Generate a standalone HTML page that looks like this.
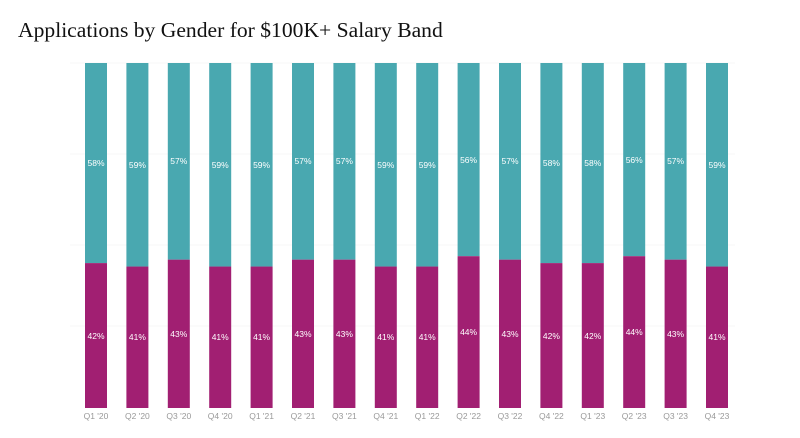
<!DOCTYPE html><html><head><style>body{margin:0;background:#fff}svg{display:block}</style></head><body>
<svg width="800" height="438" xmlns="http://www.w3.org/2000/svg">
<text x="18" y="37" font-family="Liberation Serif, serif" font-size="21.6" fill="#111">Applications by Gender for $100K+ Salary Band</text>
<g stroke="#f7f7f7" stroke-width="1"><line x1="70" y1="63" x2="735" y2="63"/><line x1="70" y1="154" x2="735" y2="154"/><line x1="70" y1="245" x2="735" y2="245"/><line x1="70" y1="326" x2="735" y2="326"/></g>
<g font-family="Liberation Sans, sans-serif" font-size="8.5" text-anchor="middle">
<rect x="85" y="63" width="22" height="200.1" fill="#49a8b0"/><rect x="85" y="263.1" width="22" height="144.9" fill="#a11f72"/><text x="96" y="166" fill="#fff">58%</text><text x="96" y="339" fill="#fff">42%</text><text x="96" y="419" fill="#999">Q1 '20</text>
<rect x="126.4" y="63" width="22" height="203.55" fill="#49a8b0"/><rect x="126.4" y="266.55" width="22" height="141.45" fill="#a11f72"/><text x="137.4" y="168" fill="#fff">59%</text><text x="137.4" y="340" fill="#fff">41%</text><text x="137.4" y="419" fill="#999">Q2 '20</text>
<rect x="167.8" y="63" width="22" height="196.65" fill="#49a8b0"/><rect x="167.8" y="259.65" width="22" height="148.35" fill="#a11f72"/><text x="178.8" y="164" fill="#fff">57%</text><text x="178.8" y="337" fill="#fff">43%</text><text x="178.8" y="419" fill="#999">Q3 '20</text>
<rect x="209.2" y="63" width="22" height="203.55" fill="#49a8b0"/><rect x="209.2" y="266.55" width="22" height="141.45" fill="#a11f72"/><text x="220.2" y="168" fill="#fff">59%</text><text x="220.2" y="340" fill="#fff">41%</text><text x="220.2" y="419" fill="#999">Q4 '20</text>
<rect x="250.6" y="63" width="22" height="203.55" fill="#49a8b0"/><rect x="250.6" y="266.55" width="22" height="141.45" fill="#a11f72"/><text x="261.6" y="168" fill="#fff">59%</text><text x="261.6" y="340" fill="#fff">41%</text><text x="261.6" y="419" fill="#999">Q1 '21</text>
<rect x="292" y="63" width="22" height="196.65" fill="#49a8b0"/><rect x="292" y="259.65" width="22" height="148.35" fill="#a11f72"/><text x="303" y="164" fill="#fff">57%</text><text x="303" y="337" fill="#fff">43%</text><text x="303" y="419" fill="#999">Q2 '21</text>
<rect x="333.4" y="63" width="22" height="196.65" fill="#49a8b0"/><rect x="333.4" y="259.65" width="22" height="148.35" fill="#a11f72"/><text x="344.4" y="164" fill="#fff">57%</text><text x="344.4" y="337" fill="#fff">43%</text><text x="344.4" y="419" fill="#999">Q3 '21</text>
<rect x="374.8" y="63" width="22" height="203.55" fill="#49a8b0"/><rect x="374.8" y="266.55" width="22" height="141.45" fill="#a11f72"/><text x="385.8" y="168" fill="#fff">59%</text><text x="385.8" y="340" fill="#fff">41%</text><text x="385.8" y="419" fill="#999">Q4 '21</text>
<rect x="416.2" y="63" width="22" height="203.55" fill="#49a8b0"/><rect x="416.2" y="266.55" width="22" height="141.45" fill="#a11f72"/><text x="427.2" y="168" fill="#fff">59%</text><text x="427.2" y="340" fill="#fff">41%</text><text x="427.2" y="419" fill="#999">Q1 '22</text>
<rect x="457.6" y="63" width="22" height="193.2" fill="#49a8b0"/><rect x="457.6" y="256.2" width="22" height="151.8" fill="#a11f72"/><text x="468.6" y="163" fill="#fff">56%</text><text x="468.6" y="335" fill="#fff">44%</text><text x="468.6" y="419" fill="#999">Q2 '22</text>
<rect x="499" y="63" width="22" height="196.65" fill="#49a8b0"/><rect x="499" y="259.65" width="22" height="148.35" fill="#a11f72"/><text x="510" y="164" fill="#fff">57%</text><text x="510" y="337" fill="#fff">43%</text><text x="510" y="419" fill="#999">Q3 '22</text>
<rect x="540.4" y="63" width="22" height="200.1" fill="#49a8b0"/><rect x="540.4" y="263.1" width="22" height="144.9" fill="#a11f72"/><text x="551.4" y="166" fill="#fff">58%</text><text x="551.4" y="339" fill="#fff">42%</text><text x="551.4" y="419" fill="#999">Q4 '22</text>
<rect x="581.8" y="63" width="22" height="200.1" fill="#49a8b0"/><rect x="581.8" y="263.1" width="22" height="144.9" fill="#a11f72"/><text x="592.8" y="166" fill="#fff">58%</text><text x="592.8" y="339" fill="#fff">42%</text><text x="592.8" y="419" fill="#999">Q1 '23</text>
<rect x="623.2" y="63" width="22" height="193.2" fill="#49a8b0"/><rect x="623.2" y="256.2" width="22" height="151.8" fill="#a11f72"/><text x="634.2" y="163" fill="#fff">56%</text><text x="634.2" y="335" fill="#fff">44%</text><text x="634.2" y="419" fill="#999">Q2 '23</text>
<rect x="664.6" y="63" width="22" height="196.65" fill="#49a8b0"/><rect x="664.6" y="259.65" width="22" height="148.35" fill="#a11f72"/><text x="675.6" y="164" fill="#fff">57%</text><text x="675.6" y="337" fill="#fff">43%</text><text x="675.6" y="419" fill="#999">Q3 '23</text>
<rect x="706" y="63" width="22" height="203.55" fill="#49a8b0"/><rect x="706" y="266.55" width="22" height="141.45" fill="#a11f72"/><text x="717" y="168" fill="#fff">59%</text><text x="717" y="340" fill="#fff">41%</text><text x="717" y="419" fill="#999">Q4 '23</text>
</g>
</svg></body></html>
